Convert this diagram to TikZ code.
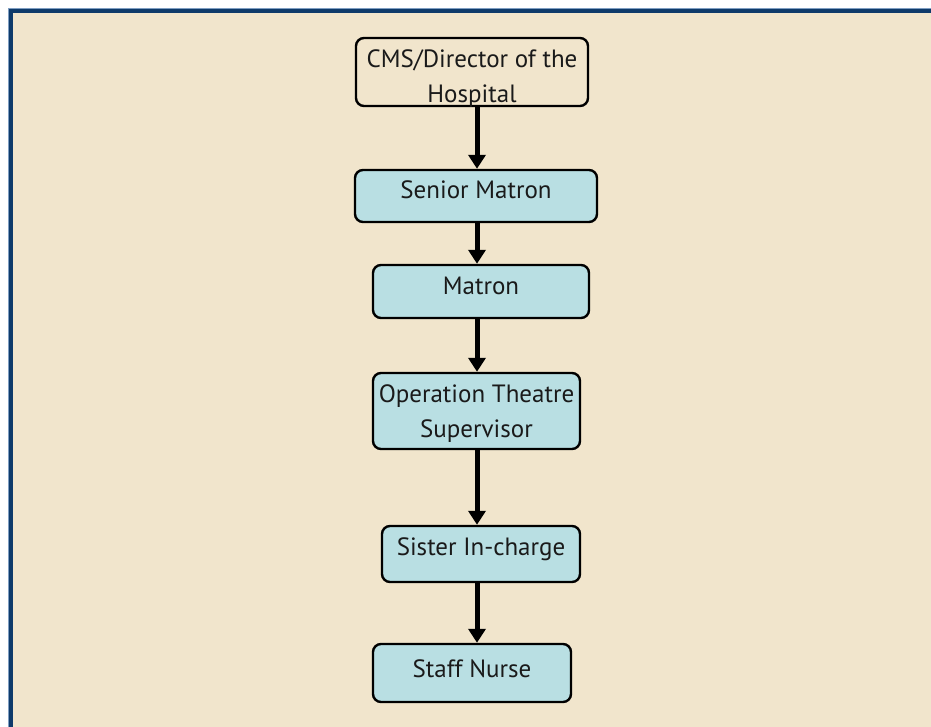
\documentclass[tikz,border=0pt]{standalone}
\usepackage{fontspec}
\setmainfont{PT Sans}
\definecolor{paper}{HTML}{F1E5CC}
\definecolor{boxfill}{HTML}{B9DFE3}
\definecolor{navy}{HTML}{0E3A6A}
\definecolor{navylight}{HTML}{7F9EC2}
\definecolor{ink}{HTML}{1A1A1A}
% one-line label, shifted so that its baseline sits #1 below the box centre
\newcommand{\oneline}[2]{\raisebox{-#1}[0pt][0pt]{#2}}
% two-line label, first baseline sits #1 below the box centre
\newcommand{\twoline}[3]{\raisebox{-#1}[0pt][0pt]{\begin{tabular}[t]{@{}c@{}}#2\\#3\end{tabular}}}
\tikzset{
  orgbox/.style={draw=black, line width=2.4pt, rounded corners=8pt,
    fill=boxfill, inner sep=0pt, text=ink,
    font=\fontsize{25}{35}\selectfont},
  topbox/.style={orgbox, fill=paper},
  link/.style={draw=black, line width=5pt,
    -{Triangle[width=17pt,length=14pt]}},
}
\usetikzlibrary{arrows.meta}
\begin{document}
\begin{tikzpicture}[x=1pt,y=-1pt]
  \useasboundingbox (0,0) rectangle (931,727);
  % page background and frame (frame runs off the right and bottom edges)
  \fill[white] (0,0) rectangle (931,727);
  \fill[paper] (10.5,10.5) rectangle (945,745);
  \draw[navylight, line width=1pt] (8.5,745) -- (8.5,8.5) -- (945,8.5);
  \draw[navy, line width=3.6pt] (10.8,745) -- (10.8,10.8) -- (945,10.8);

  % reporting chain
  \node[topbox, minimum width=232pt, minimum height=68pt] (cms) at (472,72)
    {\twoline{-4pt}{CMS/Director of the}{Hospital}};
  \node[orgbox, minimum width=242pt, minimum height=52pt] (senior) at (476,196)
    {\oneline{3pt}{Senior Matron}};
  \node[orgbox, minimum width=216pt, minimum height=53pt] (matron) at (481,291.5)
    {\oneline{2.5pt}{Matron}};
  \node[orgbox, minimum width=207pt, minimum height=76pt] (ots) at (476.5,411)
    {\twoline{-9pt}{Operation Theatre}{Supervisor}};
  \node[orgbox, minimum width=198pt, minimum height=56pt] (sister) at (481,554)
    {\oneline{1pt}{Sister In-charge}};
  \node[orgbox, minimum width=198pt, minimum height=58pt] (staff) at (472,673)
    {\oneline{4pt}{Staff Nurse}};

  % arrows run down one vertical spine
  \coordinate (spine) at (477,0);
  \draw[link] (cms.south -| spine) -- (senior.north -| spine);
  \draw[link] (senior.south -| spine) -- (matron.north -| spine);
  \draw[link] (matron.south -| spine) -- (ots.north -| spine);
  \draw[link] (ots.south -| spine) -- (sister.north -| spine);
  \draw[link] (sister.south -| spine) -- (staff.north -| spine);
\end{tikzpicture}
\end{document}
